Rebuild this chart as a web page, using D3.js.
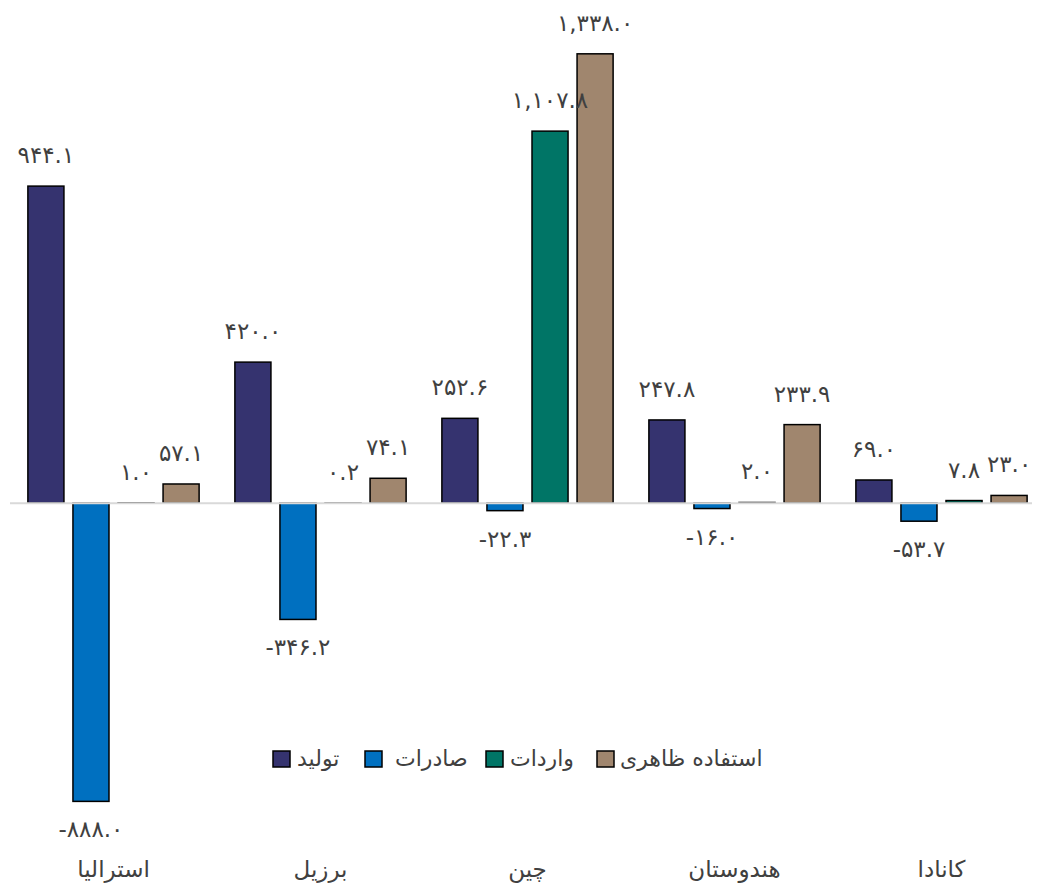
<!DOCTYPE html>
<html>
<head>
<meta charset="utf-8">
<script src="https://cdn.jsdelivr.net/npm/d3@7"></script>
<style>
  body { margin: 0; background: #fff; }
  svg { display: block; font-family: "DejaVu Sans", "Noto Sans", sans-serif; }
</style>
</head>
<body>
<div class="container"></div>
<script>
// data
const countries = ['استرالیا', 'برزیل', 'چین', 'هندوستان', 'کانادا'];
const seriesNames = ['تولید', 'صادرات', 'واردات', 'استفاده ظاهری'];
const production = [944.1, 420.0, 252.6, 247.8, 69.0];
const exportsV = [-888.0, -346.2, -22.3, -16.0, -53.7];
const importsV = [1.0, 0.2, 1107.8, 2.0, 7.8];
const apparentUse = [57.1, 74.1, 1338.0, 233.9, 23.0];

// config
const config = {
  width: 1040,
  height: 886,
  color: ['#35336f', '#0070c0', '#007566', '#a0866e'],
  text: '#404040',
  fontSize: 23,
  legendBox: [273, 365, 486, 597],
  legendText: [297, 395, 510, 620]
};

const values = [production, exportsV, importsV, apparentUse];

// persian digits, latin separators
const fa = '۰۱۲۳۴۵۶۷۸۹';
function faNum(v) {
  return d3.format(',.1f')(v).replace('−', '-').replace(/[0-9]/g, (c) => fa[+c]);
}

const svg = d3.select('.container')
  .append('svg')
  .attr('width', config.width)
  .attr('height', config.height);

const x0 = d3.scaleBand().domain(countries).range([10, 1045]).padding(0);
const x1 = d3.scaleBand().domain(seriesNames).range([0, x0.bandwidth()])
  .paddingInner(0.2).paddingOuter(0.397);
const y = d3.scaleLinear().domain([-1000, 1400]).range([839, 33]);

const rows = [];
countries.forEach((c, i) => {
  seriesNames.forEach((s, j) => {
    rows.push({ country: c, series: s, idx: j, value: values[j][i] });
  });
});

// bars
svg.append('g').selectAll('rect')
  .data(rows)
  .enter().append('rect')
  .attr('x', (d) => x0(d.country) + x1(d.series))
  .attr('y', (d) => y(Math.max(0, d.value)))
  .attr('width', x1.bandwidth())
  .attr('height', (d) => Math.abs(y(d.value) - y(0)))
  .style('fill', (d) => config.color[d.idx])
  .style('stroke', '#000')
  .style('stroke-width', 1.5);

// zero line
svg.append('line')
  .attr('x1', 10).attr('x2', 1032)
  .attr('y1', y(0)).attr('y2', y(0))
  .style('stroke', '#d9d9d9')
  .style('stroke-width', 2);

// value labels
svg.append('g').selectAll('text')
  .data(rows)
  .enter().append('text')
  .attr('x', (d) => x0(d.country) + x1(d.series) + x1.bandwidth() / 2)
  .attr('y', (d) => d.value >= 0 ? y(d.value) - 23 : y(d.value) + 36)
  .attr('text-anchor', 'middle')
  .attr('direction', 'ltr')
  .style('font-size', config.fontSize + 'px')
  .style('fill', config.text)
  .text((d) => faNum(d.value));

// category labels
svg.append('g').selectAll('text')
  .data(countries)
  .enter().append('text')
  .attr('x', (d) => x0(d) + x0.bandwidth() / 2)
  .attr('y', 877)
  .attr('text-anchor', 'middle')
  .style('font-size', '23px')
  .style('fill', config.text)
  .text((d) => d);

// legend
const legend = svg.append('g').selectAll('g')
  .data(seriesNames)
  .enter().append('g');

legend.append('rect')
  .attr('x', (d, i) => config.legendBox[i])
  .attr('y', 751)
  .attr('width', 17).attr('height', 16)
  .style('fill', (d, i) => config.color[i])
  .style('stroke', '#000')
  .style('stroke-width', 1.5);

legend.append('text')
  .attr('x', (d, i) => config.legendText[i])
  .attr('y', 766)
  .attr('direction', 'rtl')
  .attr('text-anchor', 'end')
  .style('font-size', '22px')
  .style('fill', config.text)
  .text((d) => d);
</script>
</body>
</html>
